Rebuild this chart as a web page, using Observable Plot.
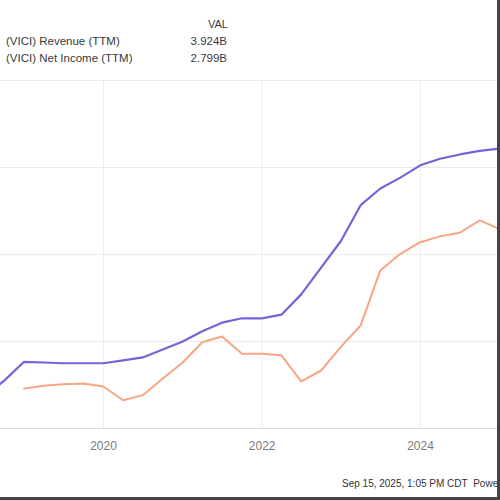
<!DOCTYPE html>
<html><head><meta charset="utf-8">
<script src="https://cdn.jsdelivr.net/npm/d3@7"></script>
<script src="https://cdn.jsdelivr.net/npm/@observablehq/plot@0.6"></script>
<style>
body{margin:0;background:#fff;font-family:"Liberation Sans",Arial,sans-serif;}
#wrap{position:relative;width:500px;height:500px;overflow:hidden;background:#fff;}
#inner{position:absolute;left:0;top:0;width:497px;height:497px;overflow:hidden;}
.t{position:absolute;white-space:nowrap;color:#3a3a3a;font-size:11.5px;line-height:14px;}
#chart{position:absolute;left:0;top:70px;}
#caption{position:absolute;left:342px;top:478px;font-size:10px;line-height:12px;color:#333;white-space:nowrap;}
.bd{position:absolute;background:#444;}
</style></head>
<body>
<div id="wrap"><div id="inner">
  <div id="legend"></div>
  <div id="chart"></div>
  <div id="caption"></div>
</div>
<div class="bd" style="left:497px;top:0;width:3px;height:500px"></div>
<div class="bd" style="left:0;top:497px;width:500px;height:3px"></div>
</div>
<script>
const quarters = ["2018-06-30","2018-09-30","2018-12-31","2019-03-31","2019-06-30","2019-09-30","2019-12-31",
  "2020-03-31","2020-06-30","2020-09-30","2020-12-31","2021-03-31","2021-06-30","2021-09-30","2021-12-31",
  "2022-03-31","2022-06-30","2022-09-30","2022-12-31","2023-03-31","2023-06-30","2023-09-30","2023-12-31",
  "2024-03-31","2024-06-30","2024-09-30","2024-12-31"];
const revenue = [0.44,0.66,0.92,0.91,0.90,0.90,0.90,0.94,0.98,1.09,1.20,1.34,1.46,1.52,1.52,1.57,1.85,2.22,2.59,3.08,3.31,3.46,3.63,3.72,3.78,3.83,3.86];
const netIncome = [null,null,0.55,0.59,0.61,0.62,0.58,0.39,0.46,0.69,0.91,1.19,1.27,1.03,1.03,1.01,0.65,0.80,1.13,1.42,2.18,2.41,2.57,2.65,2.70,2.87,2.75];
const seriesNames = ["(VICI) Revenue (TTM)","(VICI) Net Income (TTM)"];
const seriesValues = ["3.924B","2.799B"];
const seriesColors = ["#7464d8","#f8a582"];
const valHeader = "VAL";
const yGrid = [1.2,2.4,3.6,4.8];
const xTickYears = ["2020-01-01","2022-01-01","2024-01-01"];
const xDomain = ["2018-09-13","2024-12-21"];
const captionText = "Sep 15, 2025, 1:05 PM CDT\u00a0\u00a0Powered by YCHARTS";

// legend
const leg = document.getElementById("legend");
function addText(txt, left, top, width, align, size){
  const d = document.createElement("div");
  d.className = "t";
  d.textContent = txt;
  d.style.left = left + "px"; d.style.top = top + "px";
  if (width != null) { d.style.width = width + "px"; d.style.textAlign = align; }
  if (size) d.style.fontSize = size + "px";
  leg.appendChild(d);
}
addText(valHeader, 0, 17, 228, "right", 11);
seriesNames.forEach((n,i)=>{
  addText(n, 6, 34 + i*17, null, null);
  addText(seriesValues[i], 0, 34 + i*17, 227, "right");
});
document.getElementById("caption").textContent = captionText;

const parse = d3.utcParse("%Y-%m-%d");
const rev = quarters.map((q,i)=>({date: parse(q), value: revenue[i]}));
const ni = quarters.map((q,i)=>({date: parse(q), value: netIncome[i]})).filter(d=>d.value!=null);

const plot = Plot.plot({
  width: 497,
  height: 390,
  marginTop: 10,
  marginBottom: 32,
  marginLeft: 0,
  marginRight: 0,
  style: {fontFamily: "Liberation Sans, Arial, sans-serif", fontSize: "12px", color: "#7a7a7a", background: "transparent"},
  x: {type: "utc", domain: xDomain.map(parse), ticks: xTickYears.map(parse), tickFormat: "%Y", tickSize: 0, tickPadding: 13, label: null},
  y: {domain: [0, 4.8], axis: null},
  marks: [
    Plot.ruleY(yGrid, {stroke: "#ebebeb", strokeWidth: 1}),
    Plot.ruleX(xTickYears.map(parse), {stroke: "#efefef", strokeWidth: 1}),
    Plot.ruleY([0], {stroke: "#dcdcdc", strokeWidth: 1}),
    Plot.lineY(ni, {x: "date", y: "value", stroke: seriesColors[1], strokeWidth: 2, clip: true}),
    Plot.lineY(rev, {x: "date", y: "value", stroke: seriesColors[0], strokeWidth: 2.2, clip: true})
  ]
});
document.getElementById("chart").appendChild(plot);
</script>
</body></html>
